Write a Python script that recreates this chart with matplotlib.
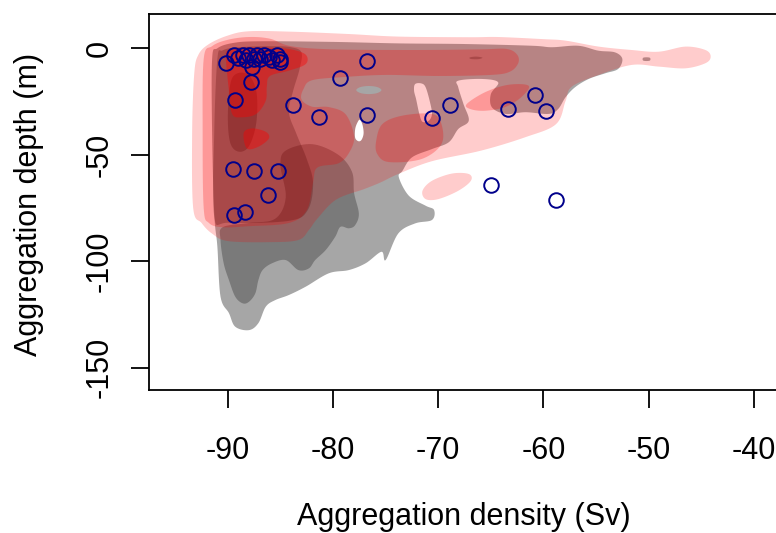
import numpy as np
import matplotlib
matplotlib.use("Agg")
import matplotlib.pyplot as plt

plt.rcParams['font.family'] = ['Liberation Sans', 'DejaVu Sans']

# ---------------- data ----------------
# observed aggregations (Sv density, depth)
obs_density = [-90.2, -89.4, -89.0, -88.6, -88.3, -88.0, -87.75, -87.5, -87.2, -86.9,
               -86.6, -86.1, -85.8, -85.3, -85.0, -85.0,
               -87.8, -89.3, -83.8, -81.3, -79.3, -76.8, -76.8, -70.55, -68.9,
               -63.4, -60.8, -59.8, -64.95, -58.8,
               -89.5, -87.5, -85.2, -86.2, -89.4, -88.4]
obs_depth = [-6.7, -3.1, -4.7, -3.1, -5.5, -3.1, -8.6, -4.8, -3.1, -4.8,
             -3.1, -3.9, -5.5, -3.1, -4.8, -6.3,
             -16.0, -24.3, -26.4, -32.1, -13.8, -6.0, -31.2, -32.6, -26.6,
             -28.3, -21.7, -29.6, -64.3, -71.2,
             -56.5, -57.5, -57.6, -68.7, -78.3, -76.7]

# contour outlines of the background density (grey) - (Sv, depth)
grey_outer = [(-91.5, -5), (-91.0, 0.0), (-89.5, 2.5), (-87, 3.3), (-80, 3.0), (-73.75, 2.3),
              (-67.4, 2.0), (-61.1, 1.2), (-59.2, 0.5), (-56.7, 1.2), (-54.8, -1.1), (-53.2, -1.9),
              (-52.5, -5.0), (-52.9, -9.7), (-54.1, -11.7), (-55.7, -14.4), (-57.0, -18.3),
              (-57.9, -23), (-58.6, -28.5), (-59.5, -30.8), (-61.7, -30.0), (-63.6, -30.8),
              (-64.9, -27.7), (-65.0, -21.5), (-64.3, -16), (-65.8, -14.4), (-68.1, -15.2),
              (-68.1, -18.3), (-67.6, -26.2), (-67.1, -34), (-68.1, -37.9), (-69.0, -44.1),
              (-70.6, -47.3), (-72.5, -51.2), (-73.4, -57.5), (-73.75, -60.5), (-72.8, -69.2),
              (-71.2, -73.9), (-70.4, -75.9), (-70.6, -80.6), (-72.2, -82.2), (-73.8, -86.9),
              (-75.0, -99.4), (-75.4, -95.5), (-76.9, -100.9), (-78.5, -104.1), (-80.4, -105.6),
              (-82.6, -111.9), (-84.2, -115.8), (-85.5, -118.2), (-86.4, -121.3), (-87.1, -129),
              (-88.0, -132.3), (-89.3, -130.7), (-89.9, -124.3), (-90.7, -116.6), (-91.0, -93.1),
              (-91.3, -77.4), (-91.5, -40)]
grey_speck = [(-50.5, -4.4), (-49.9, -4.4), (-49.9, -5.8), (-50.5, -5.8)]
grey_inner = [(-84.5, -48), (-82, -45), (-79.5, -50), (-78.2, -58), (-78, -68), (-77.55, -77.6),
              (-77.9, -83), (-78.5, -84.5), (-79.3, -83.8), (-79.8, -88.5), (-80.7, -94.7),
              (-81.7, -99.4), (-82.3, -103.3), (-83.3, -104.1), (-84.5, -99.4), (-85.8, -100.9),
              (-86.7, -104.1), (-87.1, -108.8), (-87.4, -115.1), (-88.0, -119), (-88.6, -119.7),
              (-89.3, -116.6), (-89.9, -108.8), (-90.4, -100.9), (-90.7, -90), (-90.5, -84),
              (-88, -82), (-85.5, -80), (-84.5, -70), (-85, -55)]
grey_strip = [(-89.6, -14), (-88.2, -12), (-87.3, -20), (-87.3, -35), (-88.0, -46),
              (-89.0, -48.5), (-89.8, -44), (-90.0, -30)]

# contour outlines of the aggregation density (red), levels 1..4
red_l1 = [(-92.8, -3), (-91.8, 2), (-90, 6), (-88, 8.0), (-84, 7.8), (-78.5, 6.7), (-73.8, 5.5),
          (-67, 5.2), (-64.3, 5.3), (-60, 4.3), (-57.9, 3.6), (-54.75, 0.8), (-51.6, -0.8),
          (-49.05, -1.6), (-46.5, 0.8), (-44.6, -0.8), (-44.1, -3.9), (-44.6, -7.0), (-46.5, -9.4),
          (-49.05, -8.6), (-51.6, -7.8), (-54.75, -12.5), (-57.3, -18), (-57.9, -24.8),
          (-58.8, -35.6), (-61.7, -41.7), (-65.9, -48), (-70.6, -53), (-73.8, -59), (-75.5, -63),
          (-77, -66), (-79.7, -71), (-81.5, -80), (-82.3, -85.3), (-83.3, -90), (-86, -91),
          (-90, -90.5), (-91.5, -87), (-92.5, -82), (-93.3, -75), (-93.4, -40), (-93.2, -12)]
red_l1_blob = [(-71.5, -66.9), (-70.6, -62.2), (-68.7, -58.8), (-67.1, -59.0), (-66.9, -62.2),
               (-68.1, -66.9), (-70.0, -70.8), (-71.2, -70.8)]
gap_white = [(-77.45, -33.5), (-77.2, -36), (-77.1, -40), (-77.3, -43), (-77.6, -43.6),
             (-77.9, -42), (-77.9, -38), (-77.7, -35)]
gap_pink = [(-72.2, -16.8), (-71.6, -16.5), (-71.2, -18.3), (-70.8, -25), (-70.6, -30.8),
            (-70.9, -34), (-71.5, -34.5), (-71.8, -30.8), (-72.1, -24), (-72.3, -19.9)]
gap_grey = [(-77.8, -19.6), (-77.4, -18.2), (-76.6, -17.7), (-75.8, -18.2), (-75.4, -19.6),
            (-75.8, -21.0), (-76.6, -21.5), (-77.4, -21.0)]
red_l2 = [(-92.3, -5), (-91.5, 1), (-90, 4), (-88, 5.3), (-86, 4.5), (-84, 1), (-80, -0.5),
          (-72, -0.8), (-66, -0.5), (-63.5, -0.3), (-62.5, -3), (-62.4, -7), (-63.2, -11),
          (-65, -12.5), (-70, -13.0), (-75, -12.5), (-79, -13.5), (-82, -15), (-82.8, -19),
          (-83, -24), (-82, -27.4), (-80.4, -27.6), (-78.8, -31), (-78.0, -41.5), (-78.5, -49.2),
          (-79.5, -54), (-81.5, -56), (-81.9, -63), (-82.5, -76), (-84.2, -82), (-88, -83.5),
          (-90.5, -84), (-91.8, -82), (-92.3, -75), (-92.4, -40)]
red_l2_east = [(-67.3, -26.2), (-65.5, -20.5), (-63.3, -17.1), (-61.4, -17.6), (-62.1, -22.9),
               (-63.6, -27.5), (-65.5, -29.3), (-66.9, -28.6)]
red_l2_mid = [(-75.9, -43.4), (-75.3, -35.5), (-73.4, -31.6), (-70.6, -30.8), (-69.7, -35.5),
              (-69.7, -45), (-71.6, -52), (-74.7, -53.4), (-75.8, -49.6)]
red_l3 = [(-91, -5), (-90.5, -1), (-89, 0.5), (-86, 1), (-84, 0.5), (-83, -2), (-83.2, -10),
          (-83.8, -20), (-84.2, -30), (-83.5, -40), (-82.5, -52), (-81.9, -63.3), (-82.4, -75.9),
          (-84.2, -81), (-89.9, -81.9), (-91.3, -79), (-91.3, -40)]
red_l3_dot = [(-67.0, -4.3), (-66.4, -3.9), (-65.8, -4.4), (-66.2, -5.1), (-66.9, -5.0)]
red_l4 = [(-90.2, -4.2), (-90, -1), (-89, 0.2), (-86, 0.3), (-84, -0.5), (-82.6, -3), (-82.6, -7.4),
          (-84.2, -10.5), (-86.0, -13), (-86.3, -18), (-86.4, -24.6), (-87.3, -30.8),
          (-88.7, -32.4), (-89.6, -30.8), (-89.9, -19.9)]
red_l4_blob = [(-88.5, -39.8), (-87.7, -37.6), (-86.4, -39.2), (-86.1, -42.3), (-87.1, -46.2),
               (-88.2, -47)]

x_ticks = [-90, -80, -70, -60, -50, -40]
y_ticks = [-150, -100, -50, 0]
x_label = "Aggregation density (Sv)"
y_label = "Aggregation depth (m)"


# ---------------- drawing ----------------
def smooth_closed(pts, n=10):
    P = np.asarray(pts, dtype=float)
    N = len(P)
    out = []
    for i in range(N):
        p0, p1, p2, p3 = P[i - 1], P[i], P[(i + 1) % N], P[(i + 2) % N]
        for t in np.linspace(0, 1, n, endpoint=False):
            t2, t3 = t * t, t * t * t
            out.append(0.5 * ((2 * p1) + (-p0 + p2) * t + (2 * p0 - 5 * p1 + 4 * p2 - p3) * t2
                              + (-p0 + 3 * p1 - 3 * p2 + p3) * t3))
    return np.array(out)


W, H = 776, 533
fig = plt.figure(figsize=(W / 100, H / 100), dpi=100)
ax = fig.add_axes([149 / W, (H - 390) / H, (778 - 149) / W, (390 - 14) / H])


def shape(pts, color):
    s = smooth_closed(pts)
    ax.fill(s[:, 0], s[:, 1], facecolor=color, edgecolor='none', antialiased=True, zorder=1)


g1 = (166 / 255, 166 / 255, 166 / 255)
g2 = (122 / 255, 122 / 255, 122 / 255)
shape(grey_outer, g1)
shape(grey_speck, g1)
shape(grey_inner, g2)
shape(grey_strip, g2)

c1 = (1, 0, 0, 0.2)
shape(red_l1, c1)
shape(red_l1_blob, c1)
shape(gap_white, 'white')
shape(gap_pink, (1, 0.8, 0.8))
shape(gap_grey, g1)

c2 = (248 / 255, 0, 0, 0.25)
shape(red_l2, c2)
shape(red_l2_east, c2)
shape(red_l2_mid, c2)

c3 = (80 / 255, 0, 0, 0.25)
shape(red_l3, c3)
shape(red_l3_dot, c3)

c4 = (1, 0, 0, 0.4)
shape(red_l4, c4)
shape(red_l4_blob, c4)

ax.plot(obs_density, obs_depth, linestyle='none', marker='o', markersize=10.5,
        markerfacecolor='none', markeredgecolor='#00008B', markeredgewidth=1.4, zorder=3)

ax.set_xlim(-97.5, -37.7)
ax.set_ylim(-160.4, 16.1)
ax.set_xticks(x_ticks)
ax.set_yticks(y_ticks)
ax.set_xticklabels([str(v) for v in x_ticks])
ax.set_yticklabels([str(v) for v in y_ticks])
for sp in ax.spines.values():
    sp.set_linewidth(1.3)
ax.tick_params(axis='both', length=13, width=1.3, labelsize=22, colors='black')
ax.tick_params(axis='x', pad=20)
ax.tick_params(axis='y', pad=12)
for lab in ax.get_yticklabels():
    lab.set_rotation(90)
    lab.set_verticalalignment('center')

fig.text(463.5 / W, (H - 525) / H, x_label, fontsize=22, ha='center', va='baseline')
fig.text(37 / W, (H - 204.5) / H, y_label, fontsize=22, ha='center', va='baseline',
         rotation=90, rotation_mode='anchor')

fig.savefig("out.png", dpi=100)
